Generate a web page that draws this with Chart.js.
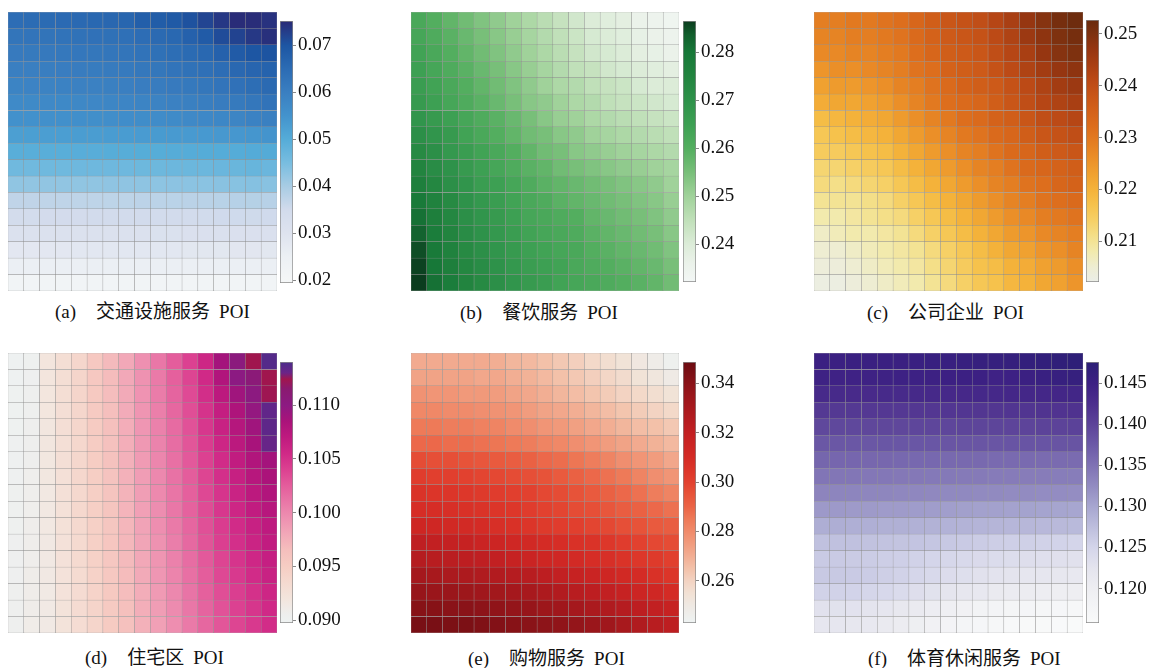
<!DOCTYPE html>
<html>
<head>
<meta charset="utf-8">
<script src="https://cdn.jsdelivr.net/npm/chart.js@4.4.1/dist/chart.umd.min.js"></script>
<style>
  body { margin: 0; background: #fff; }
  #page { position: relative; width: 1156px; height: 668px; overflow: hidden; background: #fff; }
  .box { position: absolute; }
  .cap { position: absolute; height: 22px; line-height: 22px; font-size: 19px; color: #111;
         font-family: "Liberation Serif", "Noto Sans CJK SC", serif; white-space: nowrap; }
  .cap .gap1 { display: inline-block; width: 20px; }
  .cap .gap2 { display: inline-block; width: 9px; }
</style>
</head>
<body>
<div id="page"></div>
<script>
// POI grid heatmaps (6 panels, 17 x 17 cells, top row first)

const gridCols = ['1','2','3','4','5','6','7','8','9','10','11','12','13','14','15','16','17'];

// (a) 交通设施服务
const transportValues = [
  [0.0648,0.0650,0.0652,0.0654,0.0657,0.0659,0.0661,0.0664,0.0680,0.0685,0.0690,0.0705,0.0720,0.0735,0.0750,0.0748,0.0742],
  [0.0626,0.0628,0.0630,0.0632,0.0634,0.0636,0.0638,0.0640,0.0648,0.0655,0.0660,0.0675,0.0688,0.0712,0.0722,0.0735,0.0745],
  [0.0612,0.0614,0.0616,0.0618,0.0620,0.0622,0.0624,0.0626,0.0632,0.0638,0.0645,0.0652,0.0660,0.0675,0.0688,0.0700,0.0702],
  [0.0600,0.0601,0.0603,0.0605,0.0607,0.0609,0.0611,0.0613,0.0618,0.0622,0.0628,0.0634,0.0640,0.0648,0.0658,0.0665,0.0670],
  [0.0588,0.0589,0.0590,0.0592,0.0594,0.0596,0.0598,0.0600,0.0604,0.0608,0.0612,0.0617,0.0622,0.0628,0.0636,0.0645,0.0655],
  [0.0572,0.0573,0.0574,0.0576,0.0578,0.0580,0.0582,0.0584,0.0587,0.0590,0.0594,0.0598,0.0603,0.0608,0.0614,0.0622,0.0632],
  [0.0555,0.0556,0.0557,0.0558,0.0560,0.0561,0.0562,0.0564,0.0566,0.0568,0.0571,0.0574,0.0577,0.0581,0.0586,0.0592,0.0598],
  [0.0526,0.0527,0.0528,0.0529,0.0530,0.0531,0.0532,0.0533,0.0534,0.0535,0.0536,0.0537,0.0538,0.0540,0.0542,0.0545,0.0548],
  [0.0494,0.0494,0.0495,0.0495,0.0496,0.0496,0.0497,0.0497,0.0498,0.0498,0.0499,0.0499,0.0500,0.0500,0.0501,0.0502,0.0503],
  [0.0462,0.0462,0.0463,0.0463,0.0464,0.0464,0.0465,0.0465,0.0466,0.0466,0.0467,0.0468,0.0469,0.0470,0.0472,0.0474,0.0470],
  [0.0425,0.0424,0.0424,0.0424,0.0425,0.0425,0.0426,0.0426,0.0427,0.0428,0.0429,0.0430,0.0431,0.0432,0.0434,0.0436,0.0433],
  [0.0372,0.0372,0.0373,0.0373,0.0374,0.0374,0.0375,0.0375,0.0376,0.0377,0.0378,0.0379,0.0380,0.0381,0.0383,0.0385,0.0382],
  [0.0346,0.0346,0.0347,0.0347,0.0347,0.0348,0.0348,0.0348,0.0349,0.0349,0.0350,0.0350,0.0351,0.0352,0.0353,0.0354,0.0352],
  [0.0312,0.0312,0.0312,0.0313,0.0313,0.0313,0.0314,0.0314,0.0314,0.0315,0.0315,0.0316,0.0316,0.0317,0.0317,0.0318,0.0316],
  [0.0283,0.0283,0.0283,0.0283,0.0284,0.0284,0.0284,0.0284,0.0285,0.0285,0.0285,0.0286,0.0286,0.0286,0.0287,0.0287,0.0286],
  [0.0252,0.0252,0.0252,0.0252,0.0252,0.0253,0.0253,0.0253,0.0253,0.0253,0.0254,0.0254,0.0254,0.0254,0.0255,0.0255,0.0254],
  [0.0216,0.0216,0.0216,0.0216,0.0216,0.0216,0.0216,0.0216,0.0216,0.0216,0.0216,0.0217,0.0217,0.0217,0.0217,0.0217,0.0217]
];
const transportRange = [0.0194, 0.0752];
const transportTicks = ['0.02', '0.03', '0.04', '0.05', '0.06', '0.07'];

// (b) 餐饮服务
const cateringValues = [
  [0.262,0.260,0.258,0.256,0.254,0.252,0.250,0.248,0.246,0.244,0.242,0.240,0.239,0.238,0.236,0.235,0.234],
  [0.263,0.261,0.259,0.257,0.255,0.253,0.251,0.249,0.247,0.245,0.243,0.241,0.240,0.239,0.237,0.236,0.235],
  [0.264,0.262,0.260,0.258,0.256,0.254,0.252,0.250,0.248,0.246,0.244,0.242,0.241,0.240,0.238,0.237,0.236],
  [0.265,0.263,0.261,0.259,0.257,0.255,0.253,0.251,0.249,0.247,0.245,0.244,0.242,0.241,0.240,0.239,0.238],
  [0.266,0.264,0.262,0.260,0.258,0.256,0.254,0.252,0.250,0.248,0.247,0.245,0.244,0.243,0.241,0.240,0.240],
  [0.267,0.265,0.263,0.261,0.259,0.257,0.255,0.253,0.252,0.250,0.248,0.247,0.245,0.244,0.243,0.242,0.241],
  [0.269,0.267,0.265,0.263,0.261,0.259,0.257,0.255,0.253,0.251,0.250,0.248,0.247,0.246,0.245,0.244,0.243],
  [0.271,0.269,0.267,0.264,0.262,0.260,0.258,0.256,0.255,0.253,0.252,0.250,0.249,0.248,0.247,0.246,0.245],
  [0.273,0.271,0.268,0.266,0.264,0.262,0.260,0.258,0.256,0.255,0.253,0.252,0.251,0.250,0.249,0.248,0.247],
  [0.275,0.272,0.270,0.267,0.265,0.263,0.261,0.259,0.258,0.256,0.255,0.254,0.253,0.252,0.251,0.250,0.249],
  [0.277,0.274,0.271,0.269,0.266,0.265,0.263,0.261,0.259,0.258,0.257,0.256,0.255,0.254,0.253,0.252,0.250],
  [0.279,0.276,0.273,0.270,0.268,0.266,0.264,0.262,0.261,0.259,0.258,0.257,0.256,0.255,0.254,0.253,0.251],
  [0.281,0.277,0.274,0.271,0.269,0.267,0.265,0.263,0.262,0.261,0.260,0.258,0.257,0.256,0.255,0.254,0.252],
  [0.283,0.278,0.275,0.272,0.270,0.268,0.266,0.264,0.263,0.262,0.261,0.259,0.258,0.257,0.256,0.255,0.253],
  [0.285,0.279,0.276,0.273,0.271,0.269,0.267,0.265,0.264,0.263,0.262,0.260,0.259,0.258,0.257,0.256,0.254],
  [0.286,0.280,0.277,0.274,0.272,0.270,0.268,0.266,0.265,0.264,0.262,0.261,0.260,0.259,0.258,0.257,0.255],
  [0.2865,0.281,0.278,0.275,0.273,0.271,0.269,0.267,0.266,0.264,0.263,0.262,0.261,0.260,0.259,0.258,0.256]
];
const cateringRange = [0.2321, 0.2865];
const cateringTicks = ['0.24', '0.25', '0.26', '0.27', '0.28'];

// (c) 公司企业
const companyValues = [
  [0.229,0.229,0.230,0.230,0.231,0.232,0.234,0.236,0.238,0.239,0.240,0.242,0.244,0.247,0.249,0.251,0.252],
  [0.228,0.228,0.229,0.229,0.230,0.231,0.233,0.235,0.237,0.238,0.239,0.241,0.243,0.246,0.248,0.250,0.251],
  [0.227,0.227,0.228,0.228,0.229,0.230,0.232,0.234,0.236,0.237,0.238,0.240,0.242,0.244,0.247,0.249,0.250],
  [0.225,0.226,0.226,0.227,0.228,0.229,0.231,0.232,0.235,0.236,0.237,0.239,0.241,0.243,0.245,0.247,0.248],
  [0.223,0.224,0.224,0.225,0.226,0.228,0.229,0.231,0.233,0.235,0.236,0.237,0.239,0.241,0.243,0.245,0.246],
  [0.221,0.222,0.222,0.223,0.224,0.226,0.228,0.230,0.232,0.233,0.234,0.236,0.238,0.240,0.242,0.243,0.244],
  [0.218,0.219,0.220,0.221,0.222,0.224,0.226,0.228,0.230,0.232,0.233,0.235,0.236,0.238,0.240,0.241,0.242],
  [0.216,0.217,0.218,0.219,0.220,0.222,0.224,0.226,0.228,0.230,0.231,0.233,0.234,0.236,0.238,0.239,0.240],
  [0.215,0.215,0.216,0.217,0.218,0.220,0.222,0.224,0.226,0.228,0.229,0.231,0.233,0.234,0.236,0.237,0.238],
  [0.213,0.213,0.214,0.215,0.216,0.218,0.220,0.222,0.224,0.226,0.228,0.229,0.231,0.233,0.234,0.235,0.236],
  [0.212,0.211,0.212,0.213,0.214,0.216,0.218,0.220,0.222,0.224,0.226,0.228,0.229,0.231,0.232,0.234,0.235],
  [0.210,0.210,0.210,0.211,0.212,0.214,0.216,0.218,0.220,0.222,0.224,0.226,0.228,0.229,0.231,0.232,0.233],
  [0.208,0.208,0.209,0.210,0.211,0.212,0.214,0.216,0.218,0.220,0.222,0.224,0.226,0.227,0.229,0.230,0.231],
  [0.206,0.207,0.208,0.208,0.209,0.210,0.212,0.214,0.216,0.218,0.220,0.222,0.224,0.225,0.227,0.228,0.229],
  [0.205,0.205,0.206,0.207,0.208,0.209,0.210,0.212,0.214,0.216,0.218,0.220,0.222,0.223,0.225,0.226,0.228],
  [0.204,0.204,0.205,0.206,0.207,0.208,0.209,0.211,0.213,0.215,0.217,0.218,0.220,0.221,0.223,0.224,0.226],
  [0.203,0.203,0.204,0.205,0.206,0.207,0.208,0.210,0.212,0.214,0.216,0.217,0.219,0.220,0.222,0.223,0.225]
];
const companyRange = [0.2021, 0.2527];
const companyTicks = ['0.21', '0.22', '0.23', '0.24', '0.25'];

// (d) 住宅区
const residentialValues = [
  [0.0900,0.0903,0.0920,0.0930,0.0940,0.0955,0.0968,0.0980,0.0995,0.1010,0.1025,0.1040,0.1058,0.1088,0.1104,0.1124,0.1137],
  [0.0900,0.0904,0.0920,0.0930,0.0941,0.0955,0.0967,0.0980,0.0994,0.1008,0.1023,0.1038,0.1055,0.1080,0.1100,0.1108,0.1124],
  [0.0901,0.0905,0.0919,0.0930,0.0941,0.0954,0.0966,0.0979,0.0993,0.1007,0.1021,0.1035,0.1052,0.1072,0.1090,0.1102,0.1123],
  [0.0901,0.0905,0.0919,0.0929,0.0940,0.0953,0.0965,0.0978,0.0992,0.1005,0.1019,0.1033,0.1049,0.1066,0.1082,0.1096,0.1133],
  [0.0901,0.0906,0.0918,0.0929,0.0940,0.0952,0.0964,0.0977,0.0991,0.1004,0.1017,0.1031,0.1046,0.1062,0.1077,0.1090,0.1134],
  [0.0902,0.0906,0.0918,0.0928,0.0939,0.0951,0.0963,0.0976,0.0990,0.1003,0.1016,0.1029,0.1043,0.1058,0.1073,0.1086,0.1131],
  [0.0902,0.0906,0.0917,0.0928,0.0939,0.0950,0.0962,0.0975,0.0988,0.1001,0.1014,0.1027,0.1040,0.1054,0.1068,0.1080,0.1088],
  [0.0902,0.0907,0.0917,0.0927,0.0938,0.0949,0.0961,0.0974,0.0987,0.1000,0.1013,0.1025,0.1038,0.1051,0.1064,0.1076,0.1084],
  [0.0903,0.0907,0.0916,0.0927,0.0937,0.0948,0.0960,0.0973,0.0986,0.0999,0.1011,0.1023,0.1036,0.1048,0.1061,0.1072,0.1080],
  [0.0903,0.0907,0.0916,0.0926,0.0937,0.0948,0.0959,0.0972,0.0985,0.0997,0.1010,0.1022,0.1034,0.1046,0.1058,0.1068,0.1076],
  [0.0903,0.0908,0.0916,0.0926,0.0936,0.0947,0.0958,0.0971,0.0983,0.0996,0.1008,0.1020,0.1032,0.1043,0.1054,0.1063,0.1071],
  [0.0904,0.0908,0.0915,0.0925,0.0935,0.0946,0.0957,0.0970,0.0982,0.0994,0.1006,0.1018,0.1030,0.1041,0.1051,0.1060,0.1068],
  [0.0904,0.0908,0.0915,0.0925,0.0935,0.0945,0.0956,0.0968,0.0980,0.0992,0.1004,0.1016,0.1027,0.1038,0.1048,0.1057,0.1065],
  [0.0904,0.0909,0.0915,0.0924,0.0934,0.0944,0.0955,0.0967,0.0979,0.0991,0.1002,0.1014,0.1025,0.1036,0.1045,0.1054,0.1062],
  [0.0905,0.0909,0.0914,0.0924,0.0933,0.0943,0.0954,0.0966,0.0977,0.0989,0.1000,0.1012,0.1023,0.1033,0.1042,0.1050,0.1058],
  [0.0905,0.0909,0.0914,0.0923,0.0933,0.0942,0.0953,0.0964,0.0976,0.0987,0.0998,0.1010,0.1021,0.1031,0.1040,0.1047,0.1055],
  [0.0905,0.0910,0.0914,0.0923,0.0932,0.0941,0.0952,0.0963,0.0974,0.0985,0.0996,0.1008,0.1019,0.1029,0.1038,0.1045,0.1053]
];
const residentialRange = [0.08975, 0.1140];
const residentialTicks = ['0.090', '0.095', '0.100', '0.105', '0.110'];

// (e) 购物服务
const shoppingValues = [
  [0.271,0.271,0.271,0.271,0.271,0.270,0.268,0.267,0.265,0.263,0.261,0.258,0.256,0.254,0.251,0.248,0.245],
  [0.273,0.273,0.273,0.273,0.272,0.272,0.270,0.269,0.267,0.265,0.263,0.261,0.259,0.257,0.254,0.252,0.249],
  [0.278,0.277,0.277,0.276,0.276,0.275,0.273,0.272,0.270,0.268,0.266,0.264,0.262,0.260,0.258,0.256,0.254],
  [0.281,0.281,0.280,0.280,0.279,0.278,0.277,0.275,0.273,0.272,0.270,0.268,0.266,0.264,0.262,0.260,0.258],
  [0.285,0.285,0.284,0.284,0.283,0.282,0.280,0.279,0.277,0.276,0.274,0.272,0.270,0.268,0.266,0.265,0.263],
  [0.289,0.289,0.288,0.288,0.287,0.286,0.285,0.284,0.282,0.281,0.279,0.277,0.275,0.273,0.271,0.269,0.267],
  [0.297,0.296,0.296,0.295,0.294,0.293,0.292,0.291,0.289,0.288,0.286,0.284,0.282,0.279,0.277,0.275,0.272],
  [0.302,0.301,0.301,0.300,0.299,0.298,0.297,0.296,0.295,0.293,0.291,0.289,0.287,0.285,0.282,0.279,0.277],
  [0.306,0.305,0.305,0.304,0.303,0.302,0.301,0.300,0.298,0.297,0.295,0.293,0.291,0.289,0.287,0.284,0.282],
  [0.309,0.309,0.308,0.307,0.306,0.305,0.304,0.302,0.300,0.299,0.297,0.296,0.294,0.292,0.291,0.289,0.287],
  [0.314,0.313,0.312,0.311,0.310,0.308,0.307,0.305,0.303,0.302,0.301,0.299,0.298,0.296,0.295,0.293,0.292],
  [0.321,0.320,0.319,0.318,0.316,0.315,0.313,0.312,0.310,0.309,0.307,0.306,0.304,0.302,0.300,0.298,0.297],
  [0.325,0.324,0.323,0.322,0.321,0.320,0.318,0.316,0.314,0.313,0.311,0.309,0.308,0.306,0.304,0.303,0.301],
  [0.331,0.330,0.329,0.328,0.327,0.326,0.325,0.324,0.322,0.320,0.318,0.316,0.314,0.312,0.310,0.307,0.305],
  [0.336,0.335,0.335,0.334,0.333,0.332,0.331,0.330,0.328,0.326,0.324,0.322,0.320,0.318,0.315,0.313,0.310],
  [0.341,0.341,0.340,0.340,0.339,0.338,0.337,0.336,0.334,0.333,0.331,0.329,0.327,0.325,0.322,0.320,0.318],
  [0.345,0.345,0.344,0.344,0.343,0.342,0.341,0.340,0.339,0.338,0.337,0.335,0.333,0.330,0.327,0.324,0.322]
];
const shoppingRange = [0.2429, 0.3486];
const shoppingTicks = ['0.26', '0.28', '0.30', '0.32', '0.34'];

// (f) 体育休闲服务
const leisureValues = [
  [0.1452,0.1452,0.1453,0.1453,0.1454,0.1454,0.1455,0.1456,0.1457,0.1458,0.1459,0.1460,0.1462,0.1464,0.1467,0.1470,0.1472],
  [0.1447,0.1446,0.1446,0.1447,0.1447,0.1448,0.1448,0.1449,0.1450,0.1450,0.1450,0.1446,0.1448,0.1452,0.1455,0.1458,0.1460],
  [0.1433,0.1433,0.1432,0.1432,0.1433,0.1433,0.1434,0.1434,0.1435,0.1435,0.1436,0.1436,0.1437,0.1437,0.1438,0.1439,0.1440],
  [0.1412,0.1412,0.1412,0.1413,0.1413,0.1413,0.1414,0.1414,0.1415,0.1415,0.1416,0.1416,0.1417,0.1417,0.1418,0.1419,0.1420],
  [0.1395,0.1395,0.1395,0.1396,0.1396,0.1396,0.1397,0.1397,0.1397,0.1398,0.1398,0.1398,0.1399,0.1399,0.1400,0.1400,0.1401],
  [0.1378,0.1378,0.1378,0.1378,0.1379,0.1379,0.1379,0.1379,0.1380,0.1380,0.1380,0.1380,0.1381,0.1381,0.1381,0.1382,0.1382],
  [0.1363,0.1362,0.1362,0.1361,0.1361,0.1360,0.1360,0.1360,0.1359,0.1359,0.1359,0.1358,0.1358,0.1358,0.1357,0.1357,0.1357],
  [0.1347,0.1346,0.1346,0.1345,0.1345,0.1344,0.1344,0.1343,0.1343,0.1342,0.1342,0.1341,0.1341,0.1340,0.1340,0.1339,0.1339],
  [0.1332,0.1331,0.1331,0.1330,0.1330,0.1329,0.1329,0.1328,0.1327,0.1327,0.1326,0.1326,0.1325,0.1325,0.1324,0.1324,0.1323],
  [0.1312,0.1312,0.1311,0.1311,0.1310,0.1310,0.1309,0.1308,0.1307,0.1306,0.1305,0.1305,0.1304,0.1303,0.1302,0.1301,0.1300],
  [0.1292,0.1292,0.1291,0.1291,0.1290,0.1290,0.1289,0.1288,0.1287,0.1286,0.1285,0.1284,0.1283,0.1282,0.1281,0.1280,0.1279],
  [0.1272,0.1272,0.1272,0.1271,0.1270,0.1269,0.1268,0.1266,0.1264,0.1262,0.1260,0.1258,0.1256,0.1255,0.1253,0.1252,0.1250],
  [0.1262,0.1262,0.1261,0.1260,0.1258,0.1256,0.1253,0.1250,0.1247,0.1244,0.1241,0.1239,0.1237,0.1235,0.1233,0.1232,0.1230],
  [0.1263,0.1263,0.1262,0.1260,0.1257,0.1253,0.1248,0.1243,0.1238,0.1234,0.1230,0.1227,0.1224,0.1221,0.1219,0.1217,0.1215],
  [0.1253,0.1253,0.1252,0.1249,0.1245,0.1240,0.1235,0.1229,0.1223,0.1218,0.1214,0.1211,0.1208,0.1205,0.1203,0.1201,0.1200],
  [0.1230,0.1229,0.1228,0.1225,0.1221,0.1216,0.1210,0.1203,0.1196,0.1190,0.1185,0.1181,0.1178,0.1175,0.1173,0.1171,0.1170],
  [0.1220,0.1219,0.1218,0.1215,0.1211,0.1205,0.1198,0.1190,0.1182,0.1176,0.1171,0.1168,0.1165,0.1163,0.1161,0.1160,0.1159]
];
const leisureRange = [0.1158, 0.1476];
const leisureTicks = ['0.120', '0.125', '0.130', '0.135', '0.140', '0.145'];

const panelTags = ['(a)', '(b)', '(c)', '(d)', '(e)', '(f)'];
const panelNames = ['交通设施服务', '餐饮服务', '公司企业', '住宅区', '购物服务', '体育休闲服务'];

// colour ramps: [value, colour]
const bluesRamp = [[0.0194,'#f5f7f7'],[0.025,'#ecf0f4'],[0.030,'#dee3ef'],[0.035,'#d2dbec'],[0.040,'#a8cce4'],
  [0.045,'#78bde0'],[0.050,'#55acd8'],[0.055,'#4393cd'],[0.060,'#3a7fc1'],[0.065,'#2c6cb4'],[0.070,'#1d56a3'],[0.0752,'#2a2a76']];
const greensRamp = [[0.2321,'#f3f7f6'],[0.236,'#ebf2ea'],[0.240,'#dcecd8'],[0.245,'#c0e0b9'],[0.250,'#a0d29a'],
  [0.255,'#78bf79'],[0.260,'#53ae5f'],[0.265,'#3da053'],[0.270,'#2e924a'],[0.275,'#22843f'],[0.280,'#177838'],
  [0.2835,'#12602d'],[0.2865,'#0b3c1e']];
const orangesRamp = [[0.2021,'#ebeee8'],[0.205,'#eeedd2'],[0.208,'#f2eaad'],[0.211,'#f4df88'],[0.214,'#f6d066'],
  [0.217,'#f6c24c'],[0.220,'#f4b23a'],[0.223,'#f0a130'],[0.226,'#eb8f28'],[0.229,'#e47e22'],[0.232,'#dd6e1d'],
  [0.235,'#d4621a'],[0.238,'#c95618'],[0.241,'#bc4a16'],[0.244,'#a93f13'],[0.247,'#963611'],[0.250,'#7e310f'],[0.2527,'#692a0d']];
const pinksRamp = [[0.08975,'#eef2f2'],[0.0905,'#eeefee'],[0.092,'#f3e5dd'],[0.0935,'#f5dad0'],[0.095,'#f6cdc3'],
  [0.0965,'#f5bfbd'],[0.098,'#f2a8b8'],[0.0995,'#ee90b1'],[0.101,'#e977a7'],[0.1025,'#e45d9c'],[0.104,'#dc4191'],
  [0.1055,'#d02987'],[0.107,'#bf1a7f'],[0.1085,'#aa137a'],[0.110,'#8c1a82'],[0.1115,'#8a1a70'],[0.1124,'#a0164e'],
  [0.1130,'#6a2488'],[0.1140,'#4b2c8a']];
const redsRamp = [[0.2429,'#eef3f3'],[0.250,'#efe9e3'],[0.255,'#f2e1d4'],[0.260,'#f3d3c2'],[0.265,'#f3c1a9'],
  [0.270,'#f2ae93'],[0.275,'#f19c7e'],[0.280,'#f08b6b'],[0.285,'#ee7a58'],[0.290,'#eb6446'],[0.295,'#e75339'],
  [0.300,'#e2412f'],[0.305,'#dc3529'],[0.310,'#d42b25'],[0.315,'#cc2523'],[0.320,'#c22022'],[0.325,'#b51c20'],
  [0.330,'#a8191d'],[0.335,'#9a161b'],[0.340,'#8a1318'],[0.3486,'#6c0c12']];
const purplesRamp = [[0.1158,'#f9fafa'],[0.118,'#f3f4f6'],[0.120,'#eeeef2'],[0.1225,'#e4e4ee'],[0.125,'#d4d5ea'],
  [0.1275,'#bdbedd'],[0.130,'#a7a6d0'],[0.1325,'#928bc1'],[0.135,'#7f72b4'],[0.1375,'#6c5aa7'],[0.140,'#5c4399'],
  [0.1425,'#4c2e8d'],[0.145,'#3c2083'],[0.1476,'#2c1f76']];

// page layout: [left, top, width, height]
const heatBoxes = [[8,12,269,279],[411,12,268,279],[814,12,269,279],[8,353,269,280],[411,353,268,280],[814,353,269,280]];
const barBoxes = [[280,21,13,262],[683,21,13,261],[1086,20,13,262],[280,362,13,261],[683,362,13,261],[1086,362,13,261]];
const capPos = [[55,301],[460,302],[867,302],[85,647],[468,648],[868,648]];

const panels = [
  { values: transportValues, range: transportRange, ticks: transportTicks, ramp: bluesRamp },
  { values: cateringValues, range: cateringRange, ticks: cateringTicks, ramp: greensRamp },
  { values: companyValues, range: companyRange, ticks: companyTicks, ramp: orangesRamp },
  { values: residentialValues, range: residentialRange, ticks: residentialTicks, ramp: pinksRamp },
  { values: shoppingValues, range: shoppingRange, ticks: shoppingTicks, ramp: redsRamp },
  { values: leisureValues, range: leisureRange, ticks: leisureTicks, ramp: purplesRamp }
];

Chart.defaults.font.family = '"Liberation Serif", "Times New Roman", serif';
Chart.defaults.color = '#111';

function hexRgb(h) {
  return [parseInt(h.slice(1, 3), 16), parseInt(h.slice(3, 5), 16), parseInt(h.slice(5, 7), 16)];
}

// Look up a value on a colour ramp
function rampColor(ramp, v) {
  if (v <= ramp[0][0]) return ramp[0][1];
  for (let i = 1; i < ramp.length; i++) {
    if (v <= ramp[i][0]) {
      const t = (v - ramp[i - 1][0]) / (ramp[i][0] - ramp[i - 1][0]);
      const a = hexRgb(ramp[i - 1][1]), b = hexRgb(ramp[i][1]);
      const c = a.map((x, k) => Math.round(x + (b[k] - x) * t));
      return `rgb(${c[0]},${c[1]},${c[2]})`;
    }
  }
  return ramp[ramp.length - 1][1];
}

function makeBox(page, box, extra) {
  const div = document.createElement('div');
  div.className = 'box';
  div.style.left = box[0] + 'px';
  div.style.top = (box[1] - extra) + 'px';
  div.style.width = box[2] + 'px';
  div.style.height = (box[3] + 2 * extra) + 'px';
  const canvas = document.createElement('canvas');
  div.appendChild(canvas);
  page.appendChild(div);
  return canvas;
}

// Heatmap grid as stacked bars, bottom row first
function drawHeatmap(canvas, panel) {
  const rows = panel.values.slice().reverse();
  new Chart(canvas, {
    type: 'bar',
    data: {
      labels: gridCols,
      datasets: rows.map(row => ({
        data: row.map(() => 1),
        backgroundColor: row.map(v => rampColor(panel.ramp, v)),
        borderColor: 'rgba(135,135,135,0.8)',
        borderWidth: 0.5,
        borderSkipped: false,
        barPercentage: 1,
        categoryPercentage: 1
      }))
    },
    options: {
      animation: false,
      responsive: true,
      maintainAspectRatio: false,
      layout: { padding: 0 },
      plugins: { legend: { display: false }, tooltip: { enabled: false } },
      scales: {
        x: { display: false, stacked: true },
        y: { display: false, stacked: true, min: 0, max: rows.length }
      }
    }
  });
}

// Colour bar: one floating bar filled with the ramp
function drawColorbar(canvas, panel, padY) {
  const [lo, hi] = panel.range;
  new Chart(canvas, {
    type: 'bar',
    data: {
      labels: [''],
      datasets: [{
        data: [[lo, hi]],
        backgroundColor: function(context) {
          const chart = context.chart;
          const area = chart.chartArea;
          if (!area) return null;
          const g = chart.ctx.createLinearGradient(0, area.bottom, 0, area.top);
          panel.ramp.forEach(([v, col]) => {
            g.addColorStop(Math.min(1, Math.max(0, (v - lo) / (hi - lo))), col);
          });
          return g;
        },
        borderColor: '#8a8a8a',
        borderWidth: 1,
        borderSkipped: false,
        barPercentage: 1,
        categoryPercentage: 1
      }]
    },
    options: {
      animation: false,
      responsive: true,
      maintainAspectRatio: false,
      layout: { padding: { top: padY, bottom: padY, left: 0, right: 0 } },
      plugins: { legend: { display: false }, tooltip: { enabled: false } },
      scales: {
        x: { display: false },
        y: {
          position: 'right',
          min: lo,
          max: hi,
          afterBuildTicks: function(scale) {
            scale.ticks = panel.ticks.map(t => ({ value: parseFloat(t) }));
          },
          afterFit: function(scale) {
            scale.width = 56;
          },
          ticks: {
            padding: 2,
            color: '#111',
            font: { size: 19 },
            callback: function(value, index) {
              return panel.ticks[index];
            }
          },
          grid: { drawOnChartArea: false, tickLength: 3, color: '#888' },
          border: { display: false }
        }
      }
    }
  });
}

const page = document.getElementById('page');
const padY = 16;

panels.forEach((panel, i) => {
  drawHeatmap(makeBox(page, heatBoxes[i], 0), panel);
  const bb = barBoxes[i];
  drawColorbar(makeBox(page, [bb[0], bb[1], bb[2] + 56, bb[3]], padY), panel, padY);

  const cap = document.createElement('div');
  cap.className = 'cap';
  cap.style.left = capPos[i][0] + 'px';
  cap.style.top = capPos[i][1] + 'px';
  cap.innerHTML = panelTags[i] + '<span class="gap1"></span>' + panelNames[i] + '<span class="gap2"></span>POI';
  page.appendChild(cap);
});
</script>
</body>
</html>
